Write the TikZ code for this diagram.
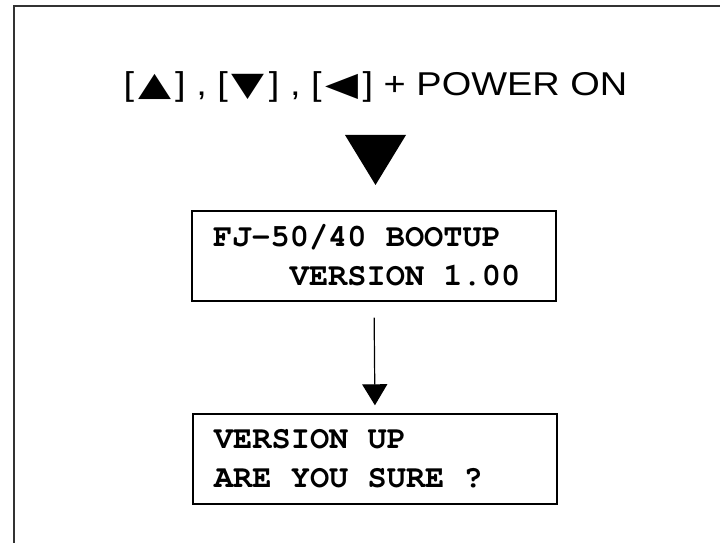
\documentclass[tikz,border=0pt]{standalone}
\usepackage[T1]{fontenc}
\usepackage{fontspec}
\setmainfont{Liberation Sans}
\newfontfamily\keysfont[FakeStretch=1.15]{Liberation Sans}
\newfontfamily\symfont{DejaVu Sans}
\usetikzlibrary{arrows.meta,positioning,calc}
\newcommand\lcdfont{\fontencoding{T1}\fontfamily{pcr}\fontseries{b}\fontsize{32}{38.5}\selectfont}
\newcommand\lcdsp{\hspace*{0.6em}}
\newcommand\keytri[1]{\kern4pt\scalebox{1.3}[1]{\symfont\fontsize{33}{36}\selectfont #1}\kern4pt}

\begin{document}
\begin{tikzpicture}[x=1pt, y=1pt,
    lcd/.style={draw, rectangle, line width=1.4pt, minimum width=364pt, minimum height=90pt,
        text width=322pt, inner xsep=21pt, align=left, font=\lcdfont},
    keys/.style={font=\keysfont\fontsize{33}{40}\selectfont, anchor=base, inner sep=0pt},
    >={Triangle[length=21pt, width=25pt]}, line width=1.2pt
]
\useasboundingbox (0,0) rectangle (720,543);
\draw[line width=1.5pt, black!80] (720,537) -- (14,537) -- (14,0);

\node[keys] (keys) at (375.5,447) {[\keytri{▲}] , [\keytri{▼}] , [\keytri{◀}] + POWER ON};
\coordinate (tritop) at (375.5,408);
\node[lcd] (boot) at (374,287) {FJ-50/40\lcdsp BOOTUP\\\lcdsp\lcdsp\lcdsp\lcdsp VERSION\lcdsp 1.00};
\node[lcd] (sure) at (375,84) {VERSION\lcdsp UP\\ARE\lcdsp YOU\lcdsp SURE\lcdsp ?};

\fill (tritop) ++(-30.5,0) -- ++(61,0) -- ++(-30.5,-50) -- cycle;
\draw[->, shorten <=16pt, shorten >=8pt] (boot.south) -- (sure.north);
\end{tikzpicture}
\end{document}
